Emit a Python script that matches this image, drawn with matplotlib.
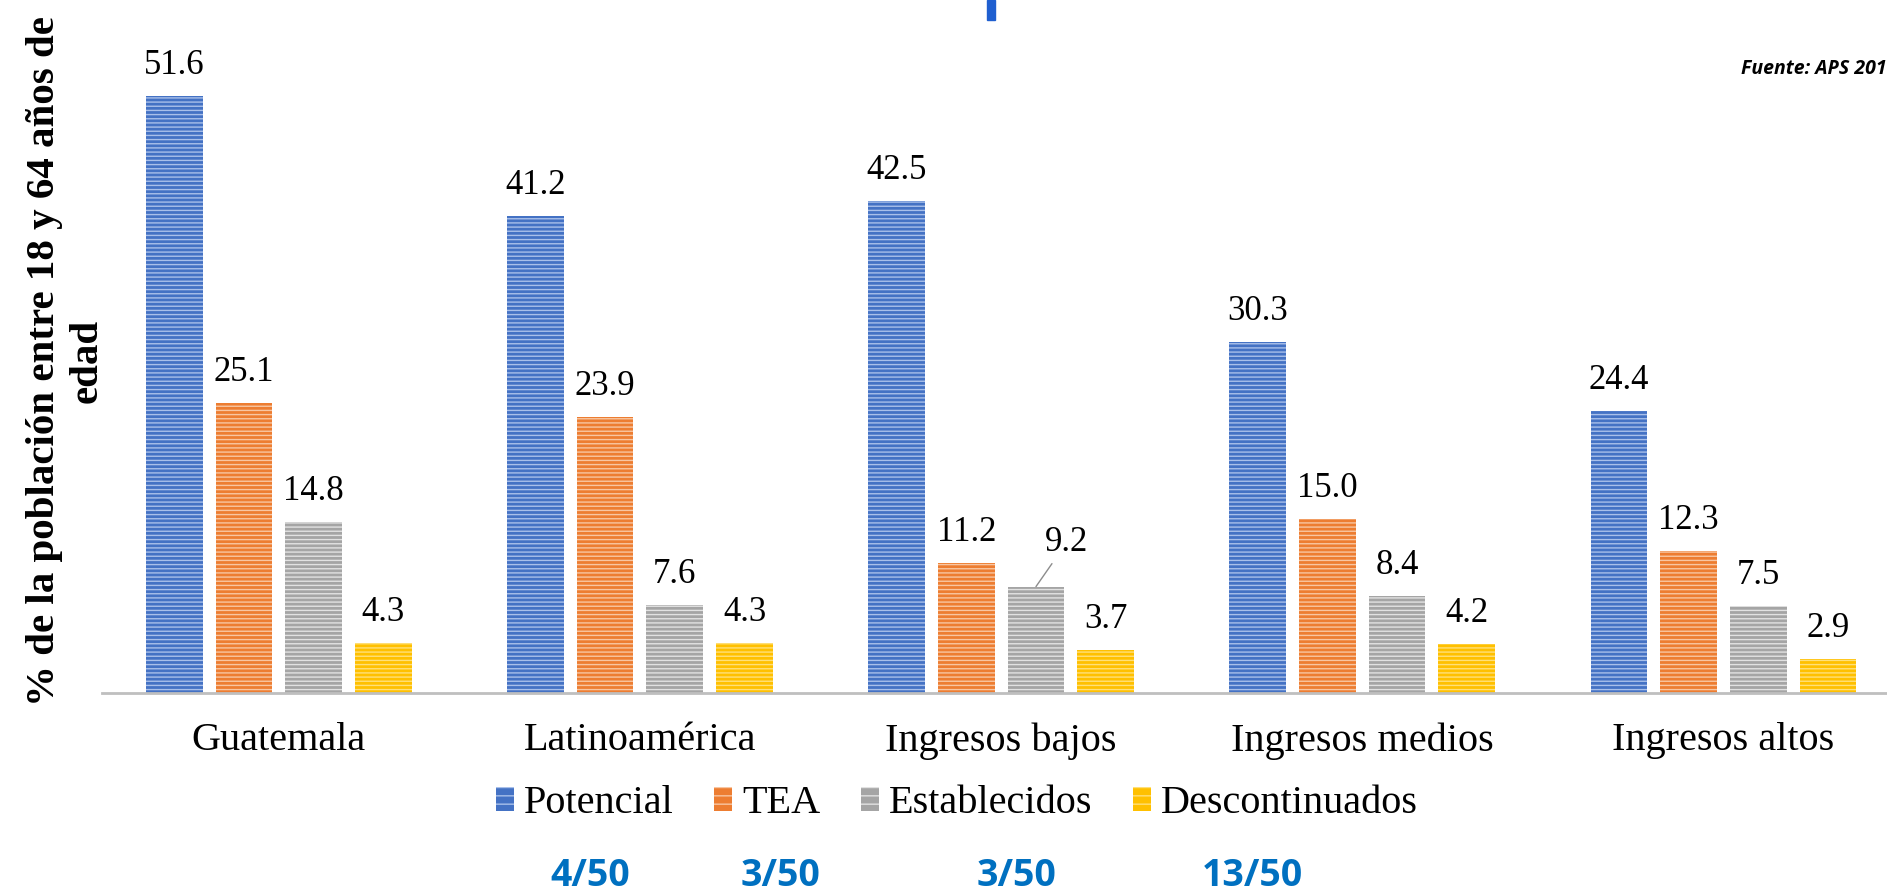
import matplotlib
matplotlib.use("Agg")
from matplotlib import pyplot as plt
from matplotlib.patches import Rectangle, Patch
import numpy as np

categories = ["Guatemala", "Latinoamérica", "Ingresos bajos", "Ingresos medios", "Ingresos altos"]
series = ["Potencial", "TEA", "Establecidos", "Descontinuados"]
potencial = [51.6, 41.2, 42.5, 30.3, 24.4]
tea = [25.1, 23.9, 11.2, 15.0, 12.3]
establecidos = [14.8, 7.6, 9.2, 8.4, 7.5]
descontinuados = [4.3, 4.3, 3.7, 4.2, 2.9]
ranks = ["4/50", "3/50", "3/50", "13/50"]

values = [potencial, tea, establecidos, descontinuados]
colors = ["#4472C4", "#ED7D31", "#A5A5A5", "#FFC000"]
stripes = ["#A9C0EA", "#F8C6A2", "#E2E2E2", "#FFE07A"]

plt.rcParams["font.family"] = ["Liberation Serif"]
plt.rcParams["hatch.linewidth"] = 1.0

fig = plt.figure(figsize=(18.87, 8.94), dpi=100)
ax = fig.add_axes([0.054, 0.2248, 0.946, 0.7506])

x = np.arange(len(categories))
width = 0.157
step = 0.193
for i, vals in enumerate(values):
    pos = x + (i - 1.5) * step
    ax.bar(pos, vals, width, color=colors[i], edgecolor=stripes[i],
           linewidth=0, hatch="----")
    for j, v in enumerate(vals):
        if series[i] == "Establecidos" and categories[j] == "Ingresos bajos":
            # this one sits beside its bar with a small leader line
            ax.annotate(f"{v:.1f}", xy=(pos[j], v), xytext=(31, 28),
                        textcoords="offset pixels", ha="center", va="bottom",
                        fontsize=25,
                        arrowprops=dict(arrowstyle="-", color="#8C8C8C", lw=1,
                                        shrinkA=2, shrinkB=0))
        else:
            ax.annotate(f"{v:.1f}", xy=(pos[j], v), xytext=(0, 14),
                        textcoords="offset pixels", ha="center", va="bottom",
                        fontsize=25)

ax.set_xlim(-0.49, 4.453)
ax.set_ylim(0, 58)
ax.set_xticks(x)
ax.set_xticklabels(categories, fontsize=29)
ax.tick_params(axis="x", length=0, pad=21)
ax.set_yticks([])
for s in ["top", "right", "left"]:
    ax.spines[s].set_visible(False)
ax.spines["bottom"].set_color("#BFBFBF")
ax.spines["bottom"].set_linewidth(2)

handles = [Patch(facecolor=colors[i], edgecolor=stripes[i], linewidth=0, hatch="--")
           for i in range(4)]
fig.legend(handles, series, loc="center", bbox_to_anchor=(0.507, 0.101), ncol=4,
           frameon=False, prop={"family": "Liberation Serif", "size": 29},
           handlelength=0.45, handleheight=0.55, handletextpad=0.25,
           columnspacing=1.0)

fig.text(0.035, 0.596, "% de la población entre 18 y 64 años de\nedad", rotation=90,
         ha="center", va="center", multialignment="center", fontsize=29.5,
         fontweight="bold", linespacing=1.2)

fig.text(1.0, 0.923, "Fuente: APS 201", fontsize=14, fontweight="bold",
         style="italic", family="Open Sans", ha="right", va="center")

fig.patches.append(Rectangle((987 / 1887, 1 - 20 / 894), 8 / 1887, 20 / 894,
                             transform=fig.transFigure, color="#1F5FD0"))

for xp, r in zip([590, 780, 1017, 1252], ranks):
    fig.text(xp / 1887, 0.02, r, fontsize=27, fontweight="bold", color="#0070C0",
             family="Open Sans", ha="center", va="center")

fig.savefig("out.png", dpi=100)
